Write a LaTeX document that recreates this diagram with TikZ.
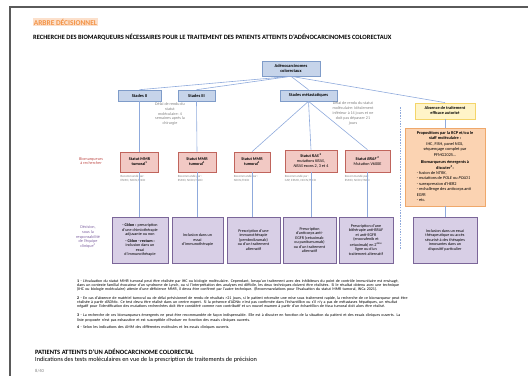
\documentclass[tikz,border=0pt]{standalone}
\usepackage{fontspec}
\setmainfont{Carlito}
\definecolor{stageblue}{HTML}{C6D4EA}
\definecolor{stageline}{HTML}{7F9CC9}
\definecolor{linkblue}{HTML}{8FAADC}
\definecolor{markerfill}{HTML}{F2C9C4}
\definecolor{markerline}{HTML}{C0645C}
\definecolor{decfill}{HTML}{D8CFE6}
\definecolor{decline}{HTML}{7B6699}
\definecolor{rcpfill}{HTML}{FBD3B2}
\definecolor{rcpline}{HTML}{EFA86B}
\definecolor{absfill}{HTML}{FFF4C8}
\definecolor{absline}{HTML}{F4D56A}
\definecolor{titleorange}{HTML}{F39447}
\definecolor{titlehl}{HTML}{FCE0CB}
\definecolor{framegray}{HTML}{5A5A5A}
\definecolor{labelred}{HTML}{C0504D}
\definecolor{labelpurple}{HTML}{8064A2}
\newcommand{\fsz}[2]{\fontsize{#1}{#2}\selectfont}
\begin{document}
\begin{tikzpicture}[x=1pt,y=-1pt,
  stage/.style={draw=stageline,fill=stageblue,line width=0.6pt,minimum height=11pt,inner sep=0pt,font=\fsz{4.4}{5.2}\bfseries,align=center},
  marker/.style={draw=markerline,fill=markerfill,line width=0.6pt,inner sep=0pt,font=\fsz{4.2}{5}\bfseries,align=center},
  decision/.style={draw=decline,fill=decfill,line width=0.6pt,minimum height=46pt,inner sep=0pt,font=\fsz{4.1}{4.5},align=center},
  note/.style={text=gray,font=\fsz{4.1}{4.9},align=center,inner sep=0pt},
  recnote/.style={text=gray,font=\fsz{3.2}{3.9},align=left,anchor=north west,inner sep=0pt},
  link/.style={draw=linkblue,line width=0.6pt},
  rowlabel/.style={font=\fsz{4.2}{4.8},align=center,inner sep=0pt}]
\useasboundingbox (0,0) rectangle (528,376);
% page frame
\draw[framegray,line width=1.2pt] (528,7) -- (10,7) -- (10,376);
% headings
\node[anchor=west,fill=titlehl,inner sep=0.6pt,text=titleorange,font=\fsz{7.4}{8}\bfseries] (kind) at (33,22) {ARBRE DÉCISIONNEL};
\node[anchor=west,inner sep=0pt,font=\fsz{6.5}{7}\bfseries] (title) at (33,37) {RECHERCHE DES BIOMARQUEURS NÉCESSAIRES POUR LE TRAITEMENT DES PATIENTS ATTEINTS D’ADÉNOCARCINOMES COLORECTAUX};
% tree
\node[stage,minimum width=58pt,minimum height=15pt] (root) at (291,68.5) {Adénocarcinomes\\colorectaux};
\node[stage,minimum width=43pt] (st2) at (139.5,95.5) {Stades II};
\node[stage,minimum width=37pt] (st3) at (196.5,95.5) {Stades III};
\node[stage,minimum width=57pt] (stm) at (308.5,95.5) {Stades métastatiques};
\node[draw=absline,fill=absfill,line width=0.8pt,minimum width=60pt,minimum height=16pt,inner sep=0pt,font=\fsz{4.3}{5}\bfseries,align=center] (none) at (445,111) {Absence de traitement\\efficace autorisé};
\node[note] (delay2) at (170,114) {Délai de rendu du\\statut\\moléculaire: 4\\semaines après la\\chirurgie};
\node[note] (delaym) at (353,113.5) {Délai de rendu du statut\\moléculaire: Idéalement\\inférieur à 14 jours et ne\\doit pas dépasser 21\\jours};
% biomarkers
\node[rowlabel,text=labelred] (lbio) at (91,161) {Biomarqueurs\\à rechercher};
\node[marker,minimum width=37.5pt,minimum height=20pt] (mmr2) at (139.5,162) {Statut MMR\\tumoral\textsuperscript{1}};
\node[marker,minimum width=38pt,minimum height=20pt] (mmr3) at (197,162) {Statut MMR\\tumoral\textsuperscript{1}};
\node[marker,minimum width=36pt,minimum height=20pt] (mmrm) at (252,162) {Statut MMR\\tumoral\textsuperscript{1}};
\node[marker,minimum width=52pt,minimum height=22pt] (ras) at (311,161) {Statut \textit{RAS}\,\textsuperscript{2}\\\mdseries mutations \textit{KRAS},\\\mdseries\textit{NRAS} exons 2, 3 et 4};
\node[marker,minimum width=45pt,minimum height=22pt] (braf) at (367.5,161) {Statut \textit{BRAF}\,\textsuperscript{2}\\\mdseries Mutation V600E};
\node[recnote] (rec1) at (mmr2.south west) {\\[0.8pt]Recommandé par:\\ESMO, NCCN,TNCD};
\node[recnote] (rec2) at (mmr3.south west) {\\[0.8pt]Recommandé par:\\ESMO, NCCN,TNCD};
\node[recnote] (rec3) at (mmrm.south west) {\\[0.8pt]Recommandé par:\\NCCN,TNCD};
\node[recnote] (rec4) at (ras.south west) {\\[0.8pt]Recommandé par:\\CAP, ESMO, NCCN,TNCD};
\node[recnote] (rec5) at (braf.south west) {\\[0.8pt]Recommandé par:\\ESMO, NCCN,TNCD};
% decisions
\node[rowlabel,text=labelpurple] (ldec) at (88,237) {Décision,\\sous la\\responsabilité\\de l’équipe\\clinique\textsuperscript{4}};
\node[decision,minimum width=56pt] (dec2) at (140,240) {\textbf{- Côlon :} prescription\\d’une chimiothérapie\\adjuvante ou non\\[2pt]\textbf{- Côlon - rectum :}\\inclusion dans un\\essai\\d’immunothérapie};
\node[decision,minimum width=51pt] (dec3) at (197.5,240) {Inclusion dans un\\essai\\d’immunothérapie};
\node[decision,minimum width=53pt] (decm) at (253.5,240) {Prescription d’une\\immunothérapie\\(pembrolizumab)\\ou d’un traitement\\alternatif};
\node[decision,minimum width=53pt] (decr) at (309.5,240) {Prescription\\d’anticorps anti-\\EGFR (cetuximab\\ou panitumumab)\\ou d’un traitement\\alternatif};
\node[decision,minimum width=54pt] (decb) at (366,240) {Prescription d’une\\bithérapie anti-BRAF\\et anti-EGFR\\(encorafenib et\\cetuximab) en 2\textsuperscript{ème}\\ligne ou d’un\\traitement alternatif};
% right branch
\node[draw=rcpline,fill=rcpfill,line width=0.6pt,minimum width=80pt,minimum height=78pt,inner sep=0pt,font=\fsz{4.3}{5.4}] (rcp) at (445,167) {\begin{tabular}{@{}l@{}}
\multicolumn{1}{@{}c@{}}{\textbf{Propositions par la RCP et/ou le}}\\
\multicolumn{1}{@{}c@{}}{\textbf{staff moléculaire :}}\\
\multicolumn{1}{@{}c@{}}{IHC, FISH, panel NGS,}\\
\multicolumn{1}{@{}c@{}}{séquençage complet par}\\
\multicolumn{1}{@{}c@{}}{PFMG2025…}\\[2pt]
\multicolumn{1}{@{}c@{}}{\textbf{Biomarqueurs émergents à}}\\
\multicolumn{1}{@{}c@{}}{\textbf{discuter\textsuperscript{3}:}}\\
- fusion de \textit{NTRK},\\
- mutations de \textit{POLE} ou \textit{POLD1}\\
- surexpression d’HER2\\
- rechallenge des anticorps anti\\
EGFR\\
- etc.
\end{tabular}};
\node[decision,minimum width=64pt] (trial) at (445,240) {Inclusion dans un essai\\thérapeutique ou accès\\sécurisé à des thérapies\\innovantes dans un\\dispositif particulier};
% connectors
\draw[link] (root.south) -- (st2.north);
\draw[link] (root.south) -- (st3.north);
\draw[link] (root.south) -- (stm.north);
\draw[link] (root.south) -- (none.north);
\draw[link] (st2.south) -- (mmr2.north);
\draw[link] (st3.south) -- (mmr3.north);
\draw[link] (stm.south) -- (mmrm.north);
\draw[link] (stm.south) -- (ras.north);
\draw[link] (stm.south) -- (braf.north);
\draw[link] (mmr2.south) -- (mmr2.south |- dec2.north);
\draw[link] (mmr3.south) -- (mmr3.south |- dec3.north);
\draw[link] (mmrm.south) -- (mmrm.south |- decm.north);
\draw[link] (ras.south) -- (ras.south |- decr.north);
\draw[link] (braf.south) -- (braf.south |- decb.north);
\draw[link] (none.south) -- (rcp.north);
\draw[link] (rcp.south) -- (trial.north);
\draw[linkblue,line width=0.8pt,dash pattern=on 1.5pt off 1.2pt] (400,107) -- (400,250);
% footnotes
\node[anchor=north west,text width=399pt,inner sep=0pt,font=\fsz{4.0}{4.1}] (notes) at (77,279) {%
\textbf{1} - L’évaluation du statut MMR tumoral peut être réalisée par IHC ou biologie moléculaire. Cependant, lorsqu’un traitement avec des inhibiteurs du point de contrôle immunitaire est envisagé,\linebreak dans un contexte familial évocateur d’un syndrome de Lynch, ou si l’interprétation des analyses est difficile, les deux techniques doivent être réalisées. Si le résultat obtenu avec une technique\linebreak (IHC ou biologie moléculaire) atteste d’une déficience MMR, il devra être confirmé par l’autre technique. (Recommandations pour l’évaluation du statut MMR tumoral, INCa 2021).\par\vspace{4.8pt}
\textbf{2} - En cas d’absence de matériel tumoral ou de délai prévisionnel de rendu de résultats >21 jours, si le patient nécessite une mise sous traitement rapide, la recherche de ce biomarqueur peut être\linebreak réalisée à partir d’ADNtc. Ce test devra être réalisé dans un centre expert. Si la présence d’ADNtc n’est pas confirmée dans l’échantillon ou s’il n’y a pas de métastases hépatiques, un résultat\linebreak négatif pour l’identification des mutations recherchées doit être considéré comme non contributif et un nouvel examen à partir d’un échantillon de tissu tumoral doit alors être réalisé.\par\vspace{5.5pt}
\textbf{3} - La recherche de ces biomarqueurs émergents ne peut être recommandée de façon indispensable. Elle est à discuter en fonction de la situation du patient et des essais cliniques ouverts. La\linebreak liste proposée n’est pas exhaustive et est susceptible d’évoluer en fonction des essais cliniques ouverts.\par\vspace{3pt}
\textbf{4} - Selon les indications des AMM des différentes molécules et les essais cliniques ouverts.};
% page foot
\node[anchor=west,inner sep=0pt,font=\fsz{6.5}{7}\bfseries] (foothead) at (35,352) {PATIENTS ATTEINTS D’UN ADÉNOCARCINOME COLORECTAL};
\node[anchor=west,inner sep=0pt,font=\fsz{6.3}{7}] (footsub) at (35,359.5) {Indications des tests moléculaires en vue de la prescription de traitements de précision};
\node[anchor=west,inner sep=0pt,text=gray,font=\fsz{4.6}{5}] (page) at (35,371) {8/40};
\end{tikzpicture}
\end{document}
